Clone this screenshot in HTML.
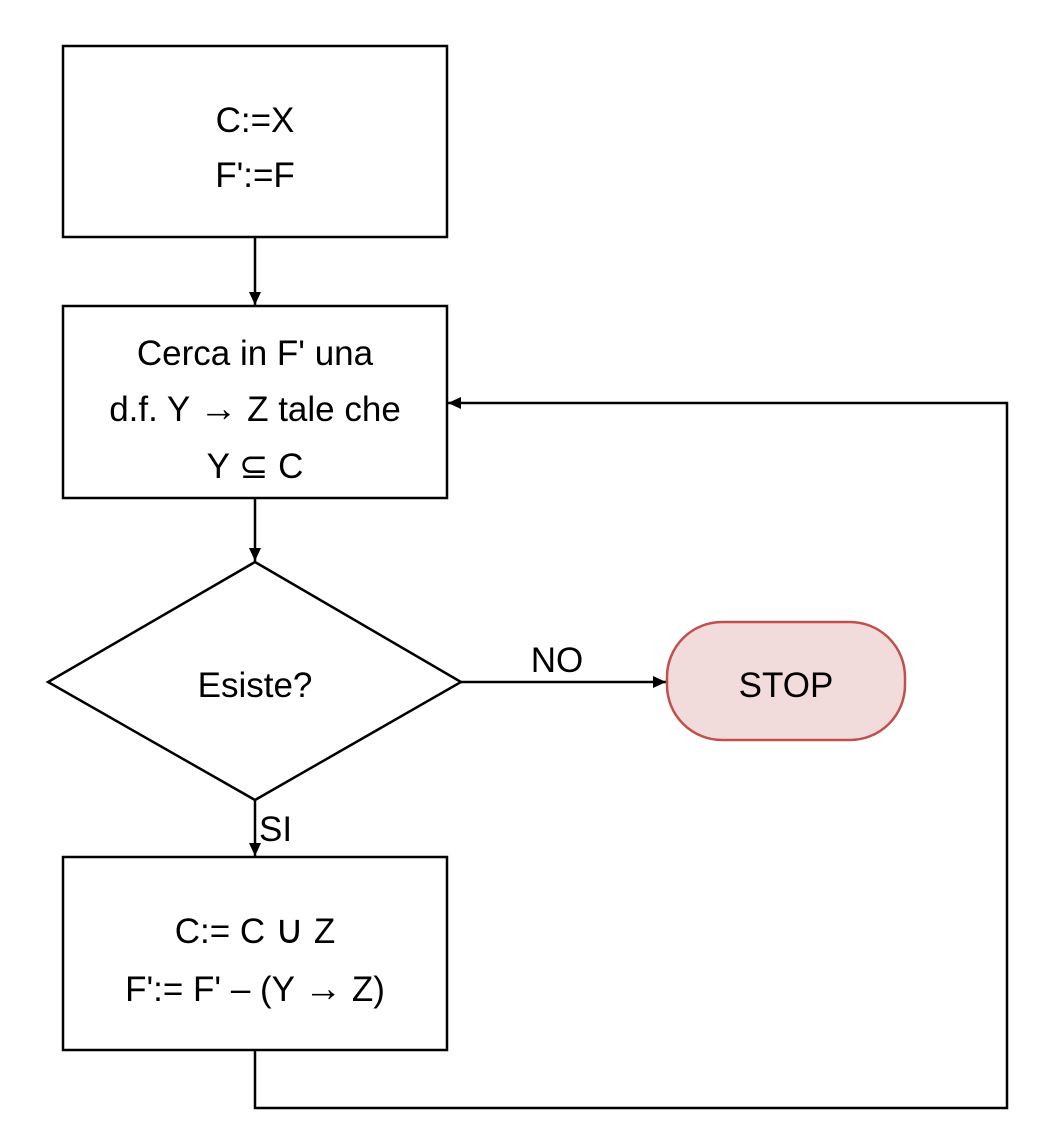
<!DOCTYPE html>
<html><head><meta charset="utf-8"><style>
html,body{margin:0;padding:0;background:#fff;}
svg{display:block;}
text{font-family:"Liberation Sans","DejaVu Sans",sans-serif;font-size:35px;fill:#000;}
.ar{font-weight:bold;font-size:38px;}
</style></head><body>
<svg width="1056" height="1132" viewBox="0 0 1056 1132">
<defs>
<marker id="ah" markerWidth="14" markerHeight="14" refX="13" refY="6" orient="auto" markerUnits="userSpaceOnUse">
<path d="M0,0 L13,6 L0,12 z" fill="#000"/>
</marker>
</defs>
<g stroke="#000" stroke-width="2.5" fill="none">
<rect x="63" y="46" width="384" height="191" fill="#fff"/>
<rect x="63" y="306" width="384" height="192" fill="#fff"/>
<rect x="63" y="857" width="384" height="193" fill="#fff"/>
<polygon points="255,562 461,682 255,800 48,682" fill="#fff"/>
<line x1="255" y1="237" x2="255" y2="305" marker-end="url(#ah)"/>
<line x1="255" y1="498" x2="255" y2="561" marker-end="url(#ah)"/>
<line x1="461" y1="682" x2="666" y2="682" marker-end="url(#ah)"/>
<line x1="255" y1="800" x2="255" y2="856" marker-end="url(#ah)"/>
<polyline points="255,1050 255,1108 1007,1108 1007,403 448,403" marker-end="url(#ah)"/>
</g>
<rect x="667" y="622" width="238" height="118" rx="55" ry="55" fill="#f2dcdb" stroke="#c0504d" stroke-width="2.5"/>
<g text-anchor="middle">
<text x="255" y="132">C:=X</text>
<text x="255" y="187">F':=F</text>
<text x="255" y="365">Cerca in F' una</text>
<text x="255" y="421">d.f. Y <tspan class="ar">→</tspan> Z tale che</text>
<text x="255" y="478">Y ⊆ C</text>
<text x="255" y="697">Esiste?</text>
<text x="786" y="697">STOP</text>
<text x="557" y="672">NO</text>
<text x="255" y="943">C:= C <tspan font-size="40">∪</tspan> Z</text>
<text x="255" y="1001">F':= F' – (Y <tspan class="ar">→</tspan> Z)</text>
</g>
<text x="259" y="841">SI</text>
</svg>
</body></html>
